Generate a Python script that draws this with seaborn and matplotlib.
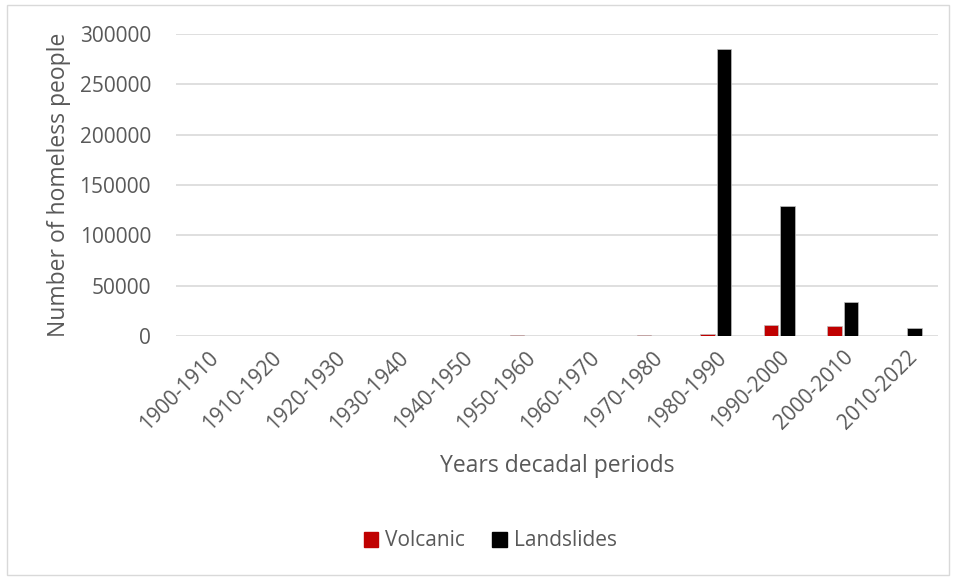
import matplotlib
matplotlib.use("Agg")
import matplotlib.pyplot as plt
import seaborn as sns
import pandas as pd
from matplotlib.patches import Rectangle, Patch

periods = ["1900-1910", "1910-1920", "1920-1930", "1930-1940", "1940-1950",
           "1950-1960", "1960-1970", "1970-1980", "1980-1990", "1990-2000",
           "2000-2010", "2010-2022"]
volcanic = [0, 0, 0, 0, 0, 800, 0, 1300, 2000, 11300, 10300, 300]
landslides = [0, 0, 0, 0, 0, 0, 0, 0, 285000, 128700, 33500, 8300]

df = pd.DataFrame({
    "period": periods * 2,
    "homeless": volcanic + landslides,
    "type": ["Volcanic"] * len(periods) + ["Landslides"] * len(periods),
})

sns.set_style("white")
plt.rcParams["font.family"] = ["Open Sans", "DejaVu Sans"]
grey = "#595959"
colors = {"Volcanic": "#c00000", "Landslides": "#000000"}

fig = plt.figure(figsize=(9.56, 5.78), dpi=100)
ax = fig.add_axes([176 / 956, 1 - 336 / 578, (938 - 176) / 956, (336 - 34) / 578])

sns.barplot(data=df, x="period", y="homeless", hue="type", palette=colors,
            width=0.52, gap=0.12, saturation=1, ax=ax, legend=False, order=periods,
            edgecolor="#bfbfbf", linewidth=0.5)

ax.set_ylim(0, 300000)
ax.set_yticks(range(0, 300001, 50000))
ax.yaxis.grid(True, color="#d9d9d9", linewidth=1.2)
ax.set_axisbelow(True)
for s in ax.spines.values():
    s.set_visible(False)
ax.tick_params(axis="both", length=0, colors=grey, labelsize=15)
ax.tick_params(axis="y", pad=18)
ax.set_xticks(range(len(periods)))
ax.set_xticklabels(periods, rotation=45, ha="right", rotation_mode="anchor")
ax.tick_params(axis="x", pad=8)
ax.set_ylabel("Number of homeless people", color=grey, fontsize=16.5, labelpad=6)
ax.set_xlabel("Years decadal periods", color=grey, fontsize=16.5, labelpad=14)

handles = [Patch(color=colors[k]) for k in ["Volcanic", "Landslides"]]
fig.legend(handles, ["Volcanic", "Landslides"], loc="center",
           bbox_to_anchor=(0.513, 1 - 541 / 578), ncol=2, frameon=False,
           fontsize=15, labelcolor=grey, handlelength=0.7, handleheight=0.7,
           handletextpad=0.35, columnspacing=1.3)

fig.patches.append(Rectangle((7 / 956, 0.005), 1 - 14 / 956, 1 - 5 / 578 - 0.005,
                             transform=fig.transFigure, fill=False,
                             edgecolor="#d9d9d9", linewidth=1))

fig.savefig("out.png", dpi=100)
